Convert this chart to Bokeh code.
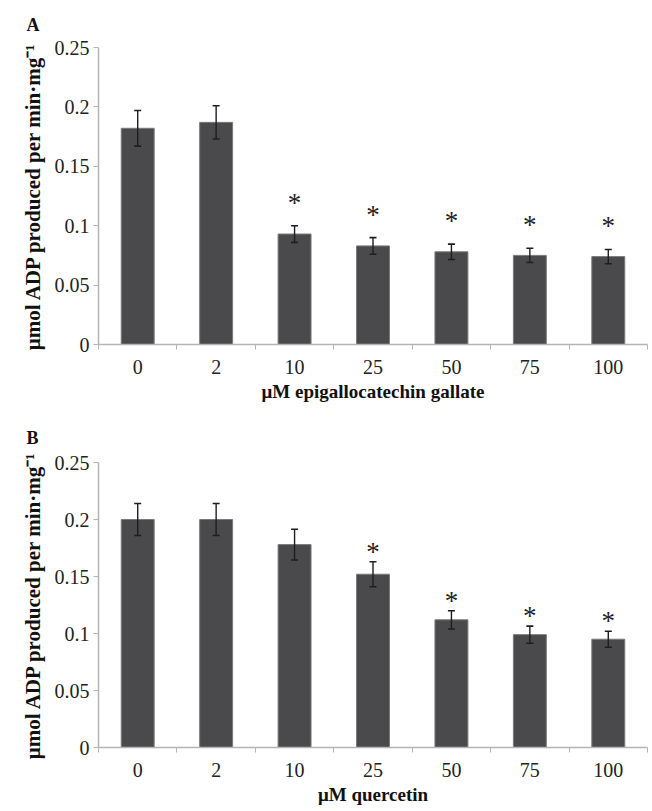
from bokeh.plotting import figure
from bokeh.layouts import column
from bokeh.models import ColumnDataSource, Whisker, FixedTicker, Range1d, TeeHead
from bokeh.embed import file_html
from bokeh.resources import INLINE

# Dose levels (µM) shared by both panels
doses = ["0", "2", "10", "25", "50", "75", "100"]

# Panel A: epigallocatechin gallate
egcg_mean = [0.182, 0.187, 0.093, 0.083, 0.078, 0.075, 0.074]
egcg_err = [0.015, 0.014, 0.007, 0.007, 0.0065, 0.006, 0.006]
egcg_sig = [False, False, True, True, True, True, True]

# Panel B: quercetin
quer_mean = [0.200, 0.200, 0.178, 0.152, 0.112, 0.099, 0.095]
quer_err = [0.014, 0.014, 0.0135, 0.011, 0.008, 0.0075, 0.007]
quer_sig = [False, False, False, True, True, True, True]

y_ticks = [0, 0.05, 0.1, 0.15, 0.2, 0.25]
y_tick_labels = ["0", "0.05", "0.1", "0.15", "0.2", "0.25"]

Y_TITLE = "\u03bcmol ADP produced per min\u00b7mg\u207b\u00b9"
SERIF = "Liberation Serif"
AXIS_GREY = "#b4b4b4"


def make_panel(letter, x_title, mean, err, sig, height, border_top,
               border_bottom, border_right, star_offset, title_standoff):
    pos = list(range(len(doses)))
    src = ColumnDataSource(dict(
        x=pos, mean=mean,
        upper=[m + e for m, e in zip(mean, err)],
        lower=[m - e for m, e in zip(mean, err)],
    ))
    star_src = ColumnDataSource(dict(
        x=[p for p, s in zip(pos, sig) if s],
        y=[m + e for m, e, s in zip(mean, err, sig) if s],
        t=["*" for s in sig if s],
    ))

    p = figure(width=652, height=height, output_backend="svg",
               toolbar_location=None,
               x_range=Range1d(-0.5, len(doses) - 0.5),
               y_range=Range1d(0, 0.25),
               min_border_left=98, min_border_right=border_right,
               min_border_top=border_top, min_border_bottom=border_bottom)
    p.outline_line_color = None
    p.grid.visible = False
    p.background_fill_color = "white"
    p.border_fill_color = "white"

    p.vbar(x="x", top="mean", width=0.42, source=src,
           fill_color="#4a4a4c", line_color="#7a7a7a", line_width=1)

    # error bars drawn over the bars
    p.add_layout(Whisker(base="x", upper="upper", lower="lower", source=src,
                         level="overlay",
                         line_color="#1e1e1e", line_width=1.4,
                         upper_head=TeeHead(size=7, line_color="#1e1e1e", line_width=1.6),
                         lower_head=TeeHead(size=7, line_color="#1e1e1e", line_width=1.6)))

    # significance markers above the error bars
    p.text(x="x", y="y", text="t", source=star_src, text_align="center",
           text_baseline="alphabetic", y_offset=star_offset,
           text_font_size="27px", text_color="#222222", text_font=SERIF)

    # x axis: labels under bars, short ticks on category boundaries
    xa = p.xaxis[0]
    xa.ticker = FixedTicker(ticks=pos,
                            minor_ticks=[i - 0.5 for i in range(len(doses) + 1)])
    xa.major_label_overrides = {i: d for i, d in enumerate(doses)}
    xa.major_tick_out = 0
    xa.major_tick_in = 0
    xa.minor_tick_out = 5
    xa.minor_tick_in = 0
    xa.minor_tick_line_color = AXIS_GREY
    xa.axis_line_color = AXIS_GREY
    xa.axis_line_width = 1.5
    xa.major_label_standoff = 10
    xa.major_label_text_font = SERIF
    xa.major_label_text_font_size = "20px"
    xa.major_label_text_color = "#222222"
    xa.axis_label = x_title
    xa.axis_label_text_font = SERIF
    xa.axis_label_text_font_style = "bold"
    xa.axis_label_text_font_size = "19px"
    xa.axis_label_text_color = "#111111"
    xa.axis_label_standoff = 4

    ya = p.yaxis[0]
    ya.ticker = FixedTicker(ticks=y_ticks, minor_ticks=[])
    ya.major_label_overrides = dict(zip(y_ticks, y_tick_labels))
    ya.major_tick_out = 5
    ya.major_tick_in = 0
    ya.major_tick_line_color = AXIS_GREY
    ya.axis_line_color = AXIS_GREY
    ya.axis_line_width = 1.5
    ya.major_label_standoff = 4
    ya.major_label_text_font = SERIF
    ya.major_label_text_font_size = "20px"
    ya.major_label_text_color = "#222222"
    ya.axis_label = Y_TITLE
    ya.axis_label_text_font = SERIF
    ya.axis_label_text_font_style = "bold"
    ya.axis_label_text_font_size = "21px"
    ya.axis_label_text_color = "#111111"
    ya.axis_label_standoff = 7

    p.title.text = letter
    p.title.align = "left"
    p.title.offset = -72
    p.title.standoff = title_standoff
    p.title.text_font = SERIF
    p.title.text_font_style = "bold"
    p.title.text_font_size = "18px"
    p.title.text_color = "#111111"
    return p


pa = make_panel("A", "\u03bcM epigallocatechin gallate", egcg_mean, egcg_err,
                egcg_sig, 404, 47, 57, 5, -23, 25)
pb = make_panel("B", "\u03bcM quercetin", quer_mean, quer_err,
                quer_sig, 407, 58, 64, 0, -10, 29)

layout = column(pa, pb, spacing=0)
open("out.html", "w").write(file_html(layout, INLINE))
